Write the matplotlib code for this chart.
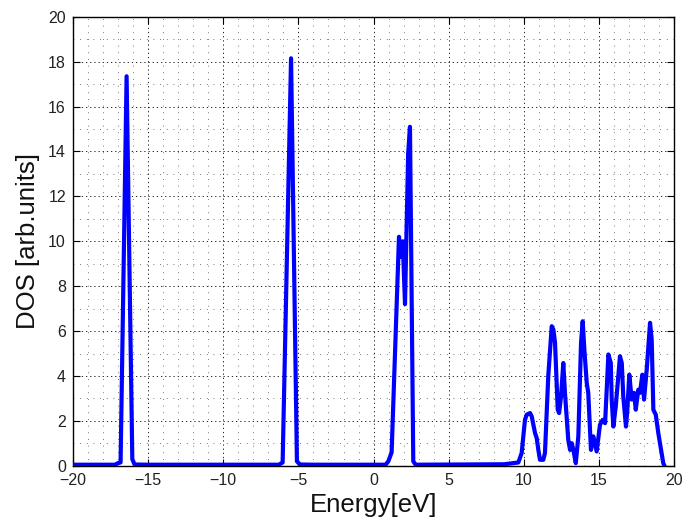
import matplotlib
matplotlib.use("Agg")
import matplotlib.pyplot as plt
from matplotlib.ticker import MultipleLocator

plt.rcParams['font.family'] = ['Liberation Sans', 'DejaVu Sans']

# density of states
energy_ev = [
    -20.0, -17.2, -17.0, -16.83, -16.43, -16.05, -15.9, -15.0,          # peak near -16.4
    -6.3, -6.05, -5.49, -5.1, -4.9, -4.0,                               # peak near -5.5
    0.8, 0.98, 1.20, 1.69, 1.80, 1.94, 2.09, 2.30, 2.42, 2.64, 2.8,     # band near 2 eV
    8.7, 9.63, 9.85, 10.07, 10.19, 10.41, 10.52, 10.74, 10.85, 10.96,
    11.07, 11.29, 11.40, 11.62, 11.85, 11.96, 12.07, 12.25, 12.34, 12.47,
    12.62, 12.73, 12.95, 13.07, 13.18, 13.29, 13.45, 13.62, 13.80, 13.91,
    14.02, 14.18, 14.28, 14.46, 14.62, 14.84, 15.06, 15.24, 15.40, 15.62,
    15.78, 15.84, 15.95, 16.11, 16.39, 16.51, 16.61, 16.79, 16.88, 17.01,
    17.17, 17.33, 17.44, 17.61, 17.72, 17.88, 17.99, 18.17, 18.39, 18.50,
    18.61, 18.77, 18.94, 19.27, 19.35,
]
dos_values = [
    0.05, 0.05, 0.12, 0.15, 17.35, 0.3, 0.06, 0.05,
    0.05, 0.15, 18.15, 0.2, 0.06, 0.05,
    0.05, 0.2, 0.6, 10.2, 9.3, 10.0, 7.2, 13.9, 15.1, 0.2, 0.05,
    0.07, 0.15, 0.57, 2.05, 2.28, 2.35, 2.2, 1.46, 1.24, 0.71,
    0.27, 0.27, 0.57, 4.0, 6.22, 6.07, 5.48, 2.5, 2.35, 3.09,
    4.58, 3.25, 1.16, 0.71, 1.01, 0.71, 0.12, 1.31, 5.48, 6.44,
    5.18, 3.69, 3.25, 0.71, 1.31, 0.64, 1.83, 2.05, 1.9, 4.96,
    4.58, 2.95, 1.75, 2.65, 4.88, 4.58, 3.09, 1.75, 2.5, 4.06,
    2.95, 3.25, 2.5, 3.39, 3.25, 4.06, 2.95, 4.29, 6.37, 5.63,
    2.5, 2.28, 1.46, 0.12, 0.0,
]

fig = plt.figure(figsize=(6.88, 5.24), dpi=100)
ax = fig.add_axes([0.106, 0.111, 0.874, 0.857])

ax.plot(energy_ev, dos_values, color="#0000ff", linewidth=3.0, zorder=3)

ax.set_xlim(-20, 20)
ax.set_ylim(0, 20)
ax.xaxis.set_major_locator(MultipleLocator(5))
ax.xaxis.set_minor_locator(MultipleLocator(1))
ax.yaxis.set_major_locator(MultipleLocator(2))
ax.yaxis.set_minor_locator(MultipleLocator(1))

# octave-like dotted grid, major a bit denser than minor
ax.grid(which="major", color="black", linestyle=(0, (1.5, 3.5)), linewidth=0.6)
ax.grid(which="minor", color="0.3", linestyle=(0, (1, 7)), linewidth=0.6)

ax.tick_params(which="major", direction="in", length=5, width=0.8,
               top=True, right=True, labelsize=11.5, labelcolor="#222222", pad=5)
ax.tick_params(which="minor", length=0)
for s in ax.spines.values():
    s.set_linewidth(1.0)

ax.set_xlabel("Energy[eV]", fontsize=18.5, color="#111111", labelpad=4)
ax.set_ylabel("DOS [arb.units]", fontsize=18.5, color="#111111", labelpad=6)

fig.savefig("out.png", dpi=100)
